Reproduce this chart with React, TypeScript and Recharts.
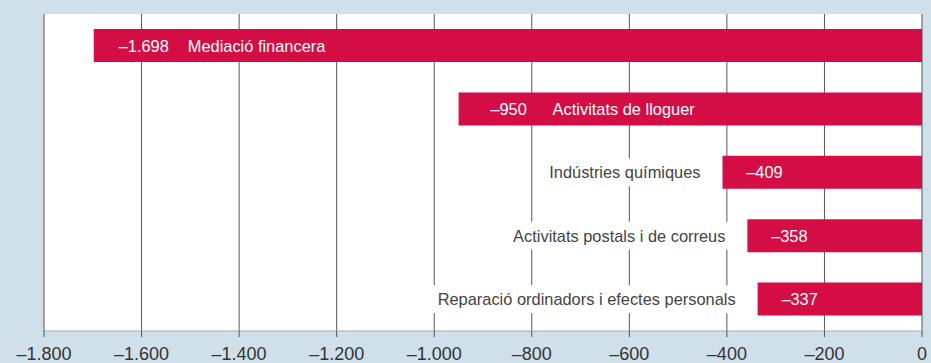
import React from "react";
import {
  BarChart,
  Bar,
  XAxis,
  YAxis,
  CartesianGrid,
  LabelList,
} from "recharts";

const categories = [
  "Mediació financera",
  "Activitats de lloguer",
  "Indústries químiques",
  "Activitats postals i de correus",
  "Reparació ordinadors i efectes personals",
];
const values = [-1698, -950, -409, -358, -337];
const xTicks = [-1800, -1600, -1400, -1200, -1000, -800, -600, -400, -200, 0];
const bandTicks = [0, 1, 2, 3, 4, 5];

const data = categories.map((name, i) => ({ name, value: values[i] }));

const BG = "#cfe0ea";
const RED = "#d40e44";
const FONT = "'Liberation Sans', Arial, sans-serif";
const LABEL_SIZE = 16.4;

function fmt(v: number): string {
  const s = Math.abs(v)
    .toString()
    .replace(/\B(?=(\d{3})+(?!\d))/g, ".");
  return v < 0 ? "\u2013" + s : s;
}

let ctx: CanvasRenderingContext2D | null = null;
function textWidth(t: string, size: number): number {
  if (!ctx) ctx = document.createElement("canvas").getContext("2d");
  if (!ctx) return t.length * size * 0.5;
  ctx.font = `${size}px ${FONT}`;
  return ctx.measureText(t).width;
}

// eslint-disable-next-line @typescript-eslint/no-explicit-any
function BarLabel(props: any) {
  const { x, y, width, height, index } = props;
  const left = Math.min(Number(x), Number(x) + Number(width));
  const cy = Number(y) + Number(height) / 2;
  const v = values[index];
  const name = categories[index];
  if (v <= -900) {
    return (
      <g fontFamily={FONT} fontSize={LABEL_SIZE} fill="#fff">
        <text x={left + 50} y={cy} textAnchor="middle" dominantBaseline="central">
          {fmt(v)}
        </text>
        <text x={left + 94} y={cy} textAnchor="start" dominantBaseline="central">
          {name}
        </text>
      </g>
    );
  }
  const w = textWidth(name, LABEL_SIZE);
  const right = left - 22;
  return (
    <g fontFamily={FONT} fontSize={LABEL_SIZE}>
      <rect x={right - w - 6} y={cy - 14} width={w + 12} height={28} fill="#fff" />
      <text x={right} y={cy} textAnchor="end" dominantBaseline="central" fill="#444">
        {name}
      </text>
      <text x={left + 42} y={cy} textAnchor="middle" dominantBaseline="central" fill="#fff">
        {fmt(v)}
      </text>
    </g>
  );
}

export default function App() {
  return (
    <div
      style={{
        position: "absolute",
        left: 0,
        top: 0,
        width: 931,
        height: 363,
        background: BG,
      }}
    >
      <BarChart
        width={931}
        height={363}
        data={data}
        layout="vertical"
        margin={{ top: 14, right: 9, left: 44, bottom: 0 }}
      >
        <CartesianGrid
          horizontal={false}
          vertical
          stroke="#555"
          fill="#fff"
          fillOpacity={1}
          xAxisId="b"
          yAxisId="cat"
        />
        <XAxis
          xAxisId="b"
          type="number"
          orientation="bottom"
          domain={[-1800, 0]}
          ticks={xTicks}
          interval={0}
          allowDataOverflow
          tickFormatter={fmt}
          height={32}
          axisLine={{ stroke: "#aaa" }}
          tickLine={{ stroke: "#555" }}
          tickSize={6}
          tickMargin={10}
          tick={{ fontSize: 18, fill: "#333", fontFamily: FONT }}
        />
        <XAxis
          xAxisId="t"
          type="number"
          orientation="top"
          domain={[-1800, 0]}
          height={0}
          tick={false}
          tickLine={false}
          axisLine={{ stroke: "#aaa" }}
        />
        <YAxis yAxisId="cat" type="category" dataKey="name" hide />
        <Bar
          dataKey="value"
          xAxisId="b"
          yAxisId="cat"
          fill={RED}
          barSize={33}
          isAnimationActive={false}
        >
          <LabelList dataKey="value" content={BarLabel} />
        </Bar>
        <YAxis
          yAxisId="r"
          type="number"
          orientation="right"
          domain={[0, 5]}
          ticks={bandTicks}
          interval={0}
          width={0}
          mirror
          tickFormatter={() => ""}
          tickSize={8}
          tickLine={{ stroke: "#555" }}
          axisLine={{ stroke: "#555" }}
        />
      </BarChart>
    </div>
  );
}
